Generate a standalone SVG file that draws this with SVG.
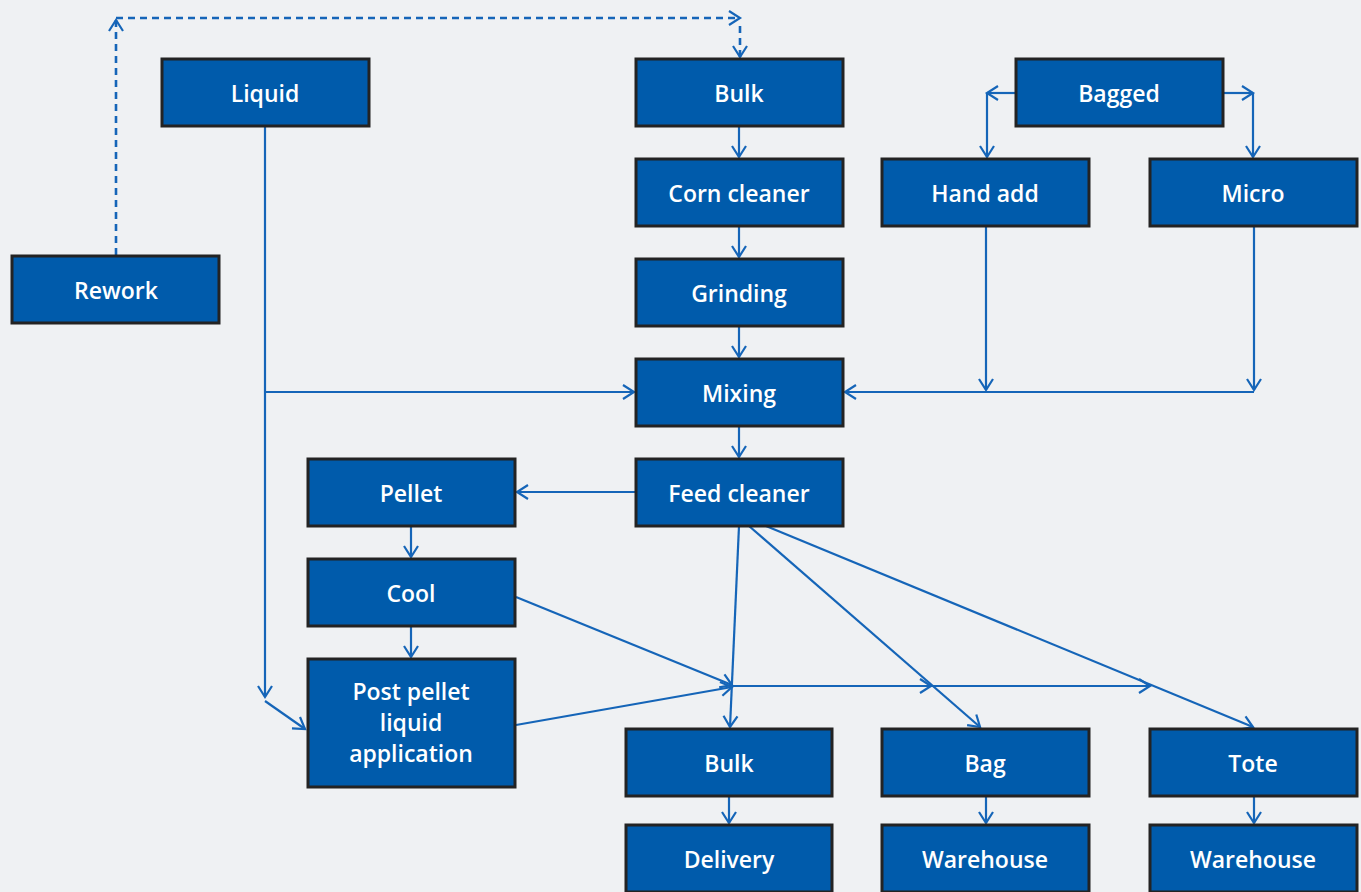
<svg xmlns="http://www.w3.org/2000/svg" width="1361" height="892" viewBox="0 0 1361 892">
<style>
.n rect{fill:#005bab;stroke:#232323;stroke-width:3}
.n text{fill:#fff;font-family:"Open Sans","Liberation Sans",sans-serif;font-weight:600;font-size:23px;text-anchor:middle;dominant-baseline:central}
.c path{fill:none;stroke:#1565b8;stroke-width:2.2}
.c .d{stroke-dasharray:7 5;stroke-width:2.6}
</style>
<defs>
<marker id="a" markerUnits="userSpaceOnUse" markerWidth="20" markerHeight="20" refX="12" refY="8" orient="auto" viewBox="0 0 20 16">
<path d="M1,1 L12,8 L1,15" fill="none" stroke="#1565b8" stroke-width="2.2"/>
</marker>
</defs>
<rect width="1361" height="892" fill="#eff1f3"/>
<g class="c">
<path class="d" d="M116,255 V20" marker-end="url(#a)"/>
<path class="d" d="M116,18 H740" marker-end="url(#a)"/>
<path class="d" d="M740,26 V57" marker-end="url(#a)"/>
<path d="M739,126 V157" marker-end="url(#a)"/>
<path d="M739,226 V257" marker-end="url(#a)"/>
<path d="M739,326 V357" marker-end="url(#a)"/>
<path d="M739,426 V457" marker-end="url(#a)"/>
<path d="M265,126 V697" marker-end="url(#a)"/>
<path d="M265,392 H634" marker-end="url(#a)"/>
<path d="M265,701 L305,729" marker-end="url(#a)"/>
<path d="M1016,93 H987" marker-end="url(#a)"/>
<path d="M987,93 V157" marker-end="url(#a)"/>
<path d="M1223,93 H1253" marker-end="url(#a)"/>
<path d="M1253,93 V157" marker-end="url(#a)"/>
<path d="M986,226 V390" marker-end="url(#a)"/>
<path d="M1254,226 V390" marker-end="url(#a)"/>
<path d="M1254,392 H845" marker-end="url(#a)"/>
<path d="M636,492 H517" marker-end="url(#a)"/>
<path d="M411,526 V557" marker-end="url(#a)"/>
<path d="M411,626 V657" marker-end="url(#a)"/>
<path d="M516,597 L732,685" marker-end="url(#a)"/>
<path d="M516,725 L732,687" marker-end="url(#a)"/>
<path d="M732,686 H931" marker-end="url(#a)"/>
<path d="M931,686 H1150" marker-end="url(#a)"/>
<path d="M739,526 L730,727" marker-end="url(#a)"/>
<path d="M749,526 L980,727" marker-end="url(#a)"/>
<path d="M766,526 L1253,727" marker-end="url(#a)"/>
<path d="M729,796 V823" marker-end="url(#a)"/>
<path d="M986,796 V823" marker-end="url(#a)"/>
<path d="M1254,796 V823" marker-end="url(#a)"/>
</g>
<g id="liquid" class="n"><rect x="162" y="59" width="207" height="67"/><text x="265" y="93">Liquid</text></g>
<g id="bulk-in" class="n"><rect x="636" y="59" width="207" height="67"/><text x="739" y="93">Bulk</text></g>
<g id="bagged" class="n"><rect x="1016" y="59" width="207" height="67"/><text x="1119" y="93">Bagged</text></g>
<g id="corn-cleaner" class="n"><rect x="636" y="159" width="207" height="67"/><text x="739" y="193">Corn cleaner</text></g>
<g id="hand-add" class="n"><rect x="882" y="159" width="207" height="67"/><text x="985" y="193">Hand add</text></g>
<g id="micro" class="n"><rect x="1150" y="159" width="207" height="67"/><text x="1253" y="193">Micro</text></g>
<g id="rework" class="n"><rect x="12" y="256" width="207" height="67"/><text x="116" y="290">Rework</text></g>
<g id="grinding" class="n"><rect x="636" y="259" width="207" height="67"/><text x="739" y="293">Grinding</text></g>
<g id="mixing" class="n"><rect x="636" y="359" width="207" height="67"/><text x="739" y="393">Mixing</text></g>
<g id="pellet" class="n"><rect x="308" y="459" width="207" height="67"/><text x="411" y="493">Pellet</text></g>
<g id="feed-cleaner" class="n"><rect x="636" y="459" width="207" height="67"/><text x="739" y="493">Feed cleaner</text></g>
<g id="cool" class="n"><rect x="308" y="559" width="207" height="67"/><text x="411" y="593">Cool</text></g>
<g id="post-pellet" class="n"><rect x="308" y="659" width="207" height="128"/><text x="411" y="691">Post pellet</text><text x="411" y="722">liquid</text><text x="411" y="753">application</text></g>
<g id="bulk-out" class="n"><rect x="626" y="729" width="206" height="67"/><text x="729" y="763">Bulk</text></g>
<g id="bag" class="n"><rect x="882" y="729" width="207" height="67"/><text x="985" y="763">Bag</text></g>
<g id="tote" class="n"><rect x="1150" y="729" width="207" height="67"/><text x="1253" y="763">Tote</text></g>
<g id="delivery" class="n"><rect x="626" y="825" width="206" height="67"/><text x="729" y="859">Delivery</text></g>
<g id="warehouse-1" class="n"><rect x="882" y="825" width="207" height="67"/><text x="985" y="859">Warehouse</text></g>
<g id="warehouse-2" class="n"><rect x="1150" y="825" width="207" height="67"/><text x="1253" y="859">Warehouse</text></g>
</svg>
